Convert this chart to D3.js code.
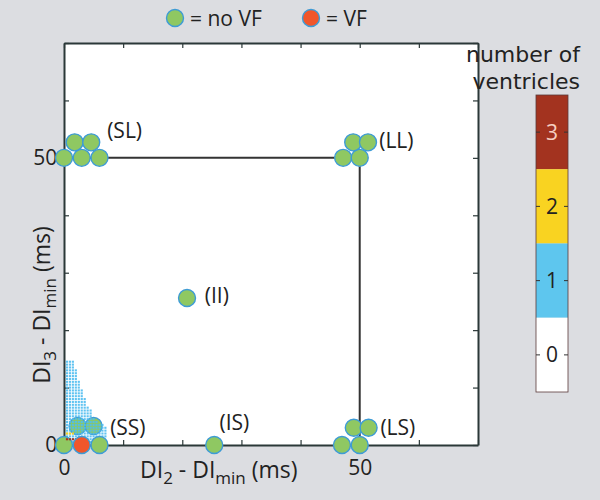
<!DOCTYPE html>
<html>
<head>
<meta charset="utf-8">
<script src="https://cdn.jsdelivr.net/npm/d3@7"></script>
<style>
  html, body { margin: 0; padding: 0; background: #dcdde1; }
  svg { display: block; font-family: "Open Sans", "Noto Sans", sans-serif; }
</style>
</head>
<body>
<svg id="chart" width="600" height="500"></svg>
<script>
// ---------------- data ----------------
const xDomain = [0, 70];
const yDomain = [0, 70];
const xTicks = [0, 10, 20, 30, 40, 50, 60, 70];
const yTicks = [0, 10, 20, 30, 40, 50, 60, 70];
const labeledTicks = [0, 50];

// stimulation-protocol points: [DI2, DI3]
const noVFPointsBack = [[2.3, 3.3], [5.0, 3.3]];            // SS upper row (behind cells)
const noVFPoints = [
  [0, 50], [3, 50], [6, 50], [1.8, 52.7], [4.6, 52.7],      // SL
  [47.2, 50], [50, 50], [48.9, 52.7], [51.4, 52.7],         // LL
  [20.8, 25.6],                                              // II
  [0, 0], [6, 0],                                            // SS
  [25.4, 0],                                                 // IS
  [47, 0], [50, 0], [49, 3], [51.5, 3]                       // LS
];
const vfPoints = [[3, 0]];

// annotations: [label, DI2, DI3]
const annotations = [
  ["(SL)", 7.3, 53.5], ["(LL)", 53.3, 51.8], ["(II)", 23.8, 24.8],
  ["(SS)", 7.8, 1.8], ["(IS)", 26.3, 2.6], ["(LS)", 53.5, 1.8]
];

// number-of-ventricles cells near the origin (0.5 ms grid)
const cellStep = 0.5;
// rows of value 1: [DI3, max DI2], cells run from DI2 = 0.5 to max
const blueRows = [
  [14.5, 1.5], [14, 1.5], [13.5, 1.5], [13, 2], [12.5, 2], [12, 2], [11.5, 2],
  [11, 2.5], [10.5, 2.5], [10, 2.5], [9.5, 3], [9, 3], [8.5, 3], [8, 3.5],
  [7.5, 3.5], [7, 3.5], [6.5, 4], [6, 4.5], [5.5, 4.5], [5, 4.5], [4.5, 5],
  [4, 5.5], [3.5, 6.5], [3, 7], [2.5, 7], [2, 7], [1.5, 7], [1, 6.5], [0.5, 6]
];
const yellowCells = [[0.5, 2], [1, 2], [1.5, 2]];          // value 2: [DI2, DI3]
const redCells = [[0.5, 1], [1, 1], [1.5, 1], [2, 1]];      // value 3: [DI2, DI3]

// colour bar
const cbLevels = [3, 2, 1, 0];
const cbColors = { 3: "#a3331f", 2: "#f9d321", 1: "#5ec6ee", 0: "#ffffff" };
const cbTitle = ["number of", "ventricles"];

// ---------------- drawing ----------------
const svg = d3.select("#chart");
const x = d3.scaleLinear().domain(xDomain).range([64, 478]);
const y = d3.scaleLinear().domain(yDomain).range([445, 43]);

const green = "#8fc862", edge = "#3d9bd6", vfRed = "#f0562b", ink = "#222";

// plot background
svg.append("rect").attr("x", x(0)).attr("y", y(70))
  .attr("width", x(70) - x(0)).attr("height", y(0) - y(70))
  .attr("fill", "#ffffff");

// axes with inward ticks
const fmt = d => labeledTicks.includes(d) ? d : "";
const axB = svg.append("g").attr("transform", `translate(0,${y(0)})`)
  .call(d3.axisBottom(x).tickValues(xTicks).tickSizeInner(-5).tickSizeOuter(0).tickPadding(17).tickFormat(fmt));
const axL = svg.append("g").attr("transform", `translate(${x(0)},0)`)
  .call(d3.axisLeft(y).tickValues(yTicks).tickSizeInner(-5).tickSizeOuter(0).tickPadding(14).tickFormat(fmt));
const axT = svg.append("g").attr("transform", `translate(0,${y(70)})`)
  .call(d3.axisTop(x).tickValues(xTicks).tickSizeInner(-5).tickSizeOuter(0).tickFormat(""));
const axR = svg.append("g").attr("transform", `translate(${x(70)},0)`)
  .call(d3.axisRight(y).tickValues(yTicks).tickSizeInner(-5).tickSizeOuter(0).tickFormat(""));
[axB, axL, axT, axR].forEach(g => {
  g.select(".domain").attr("stroke", "#2b3838").attr("stroke-width", 2);
  g.selectAll(".tick line").attr("stroke", "#2b3838").attr("stroke-width", 1.2);
  g.selectAll(".tick text").attr("font-size", 21).attr("fill", ink)
    .attr("font-family", "'Open Sans', sans-serif");
});
axB.selectAll(".tick text").attr("dy", "0.6em");
axL.selectAll(".tick text").attr("dx", "0.35em");

// the square path (0,50)-(50,50)-(50,0)
svg.append("path")
  .attr("d", d3.line().x(d => x(d[0])).y(d => y(d[1]))([[0, 50], [50, 50], [50, 0]]))
  .attr("fill", "none").attr("stroke", "#333").attr("stroke-width", 2);

const R = 8.5;
function dots(data, fill) {
  svg.append("g").selectAll("circle").data(data).join("circle")
    .attr("cx", d => x(d[0])).attr("cy", d => y(d[1])).attr("r", R)
    .attr("fill", fill).attr("stroke", edge).attr("stroke-width", 1.4);
}

dots(noVFPointsBack, green);

// cells
const cw = x(cellStep) - x(0), ch = y(0) - y(cellStep);
const blueCells = [];
blueRows.forEach(([d3v, max]) => {
  for (let k = 1; k * cellStep <= max + 1e-9; k++) blueCells.push([k * cellStep, d3v]);
});
function cells(data, fill, op) {
  svg.append("g").selectAll("rect").data(data).join("rect")
    .attr("x", d => x(d[0]) - cw / 2 + 0.4).attr("y", d => y(d[1]) - ch / 2 + 0.4)
    .attr("width", cw - 0.8).attr("height", ch - 0.8)
    .attr("fill", fill).attr("fill-opacity", op);
}
cells(blueCells, "#4fbdf0", 0.9);

dots(noVFPoints, green);
cells(yellowCells, cbColors[2], 1);
cells(redCells, cbColors[3], 1);
dots(vfPoints, vfRed);

// annotations
svg.append("g").selectAll("text").data(annotations).join("text")
  .attr("x", d => x(d[1])).attr("y", d => y(d[2]))
  .attr("font-size", 21).attr("fill", ink).text(d => d[0]);

// axis labels
const xl = svg.append("text").attr("x", 140).attr("y", 478).attr("font-size", 23).attr("fill", ink);
xl.append("tspan").text("DI");
xl.append("tspan").attr("font-size", 17).attr("dy", 6).text("2");
xl.append("tspan").attr("dy", -6).text(" - DI");
xl.append("tspan").attr("font-size", 17).attr("dy", 6).text("min");
xl.append("tspan").attr("dy", -6).text(" (ms)");

const yl = svg.append("text").attr("transform", "translate(50,305) rotate(-90)")
  .attr("text-anchor", "middle").attr("font-size", 23).attr("fill", ink);
yl.append("tspan").text("DI");
yl.append("tspan").attr("font-size", 17).attr("dy", 6).text("3");
yl.append("tspan").attr("dy", -6).text(" - DI");
yl.append("tspan").attr("font-size", 17).attr("dy", 6).text("min");
yl.append("tspan").attr("dy", -6).text(" (ms)");

// legend
const lg = svg.append("g");
lg.append("circle").attr("cx", 175).attr("cy", 18).attr("r", R)
  .attr("fill", green).attr("stroke", edge).attr("stroke-width", 1.4);
lg.append("text").attr("x", 190).attr("y", 26).attr("font-size", 21).attr("fill", ink).text("= no VF");
lg.append("circle").attr("cx", 311).attr("cy", 18).attr("r", R)
  .attr("fill", vfRed).attr("stroke", edge).attr("stroke-width", 1.4);
lg.append("text").attr("x", 326).attr("y", 26).attr("font-size", 21).attr("fill", ink).text("= VF");

// colour bar
const cb = d3.scaleBand().domain(cbLevels).range([95, 392]);
const cbx = 536, cbw = 32;
const cbg = svg.append("g");
cbg.selectAll("rect").data(cbLevels).join("rect")
  .attr("x", cbx).attr("y", d => cb(d)).attr("width", cbw).attr("height", cb.bandwidth())
  .attr("fill", d => cbColors[d]);
cbg.append("rect").attr("x", cbx).attr("y", 95).attr("width", cbw).attr("height", 392 - 95)
  .attr("fill", "none").attr("stroke", "#5a3a3a").attr("stroke-width", 0.8);
cbg.selectAll("line.l").data(cbLevels).join("line").attr("class", "l")
  .attr("x1", cbx).attr("x2", cbx + 4)
  .attr("y1", d => cb(d) + cb.bandwidth() / 2).attr("y2", d => cb(d) + cb.bandwidth() / 2)
  .attr("stroke", "#333");
cbg.selectAll("line.r").data(cbLevels).join("line").attr("class", "r")
  .attr("x1", cbx + cbw - 4).attr("x2", cbx + cbw)
  .attr("y1", d => cb(d) + cb.bandwidth() / 2).attr("y2", d => cb(d) + cb.bandwidth() / 2)
  .attr("stroke", "#333");
cbg.selectAll("text").data(cbLevels).join("text")
  .attr("x", cbx + cbw / 2).attr("y", d => cb(d) + cb.bandwidth() / 2)
  .attr("dy", "0.36em").attr("text-anchor", "middle").attr("font-size", 21)
  .attr("fill", d => d === 3 ? "#f6d0c2" : ink).text(d => d);

svg.append("g").selectAll("text").data(cbTitle).join("text")
  .attr("x", 580).attr("y", (d, i) => 62 + i * 27).attr("text-anchor", "end")
  .attr("font-family", "'DejaVu Sans', sans-serif").attr("font-size", 22)
  .attr("fill", ink).text(d => d);
</script>
</body>
</html>
